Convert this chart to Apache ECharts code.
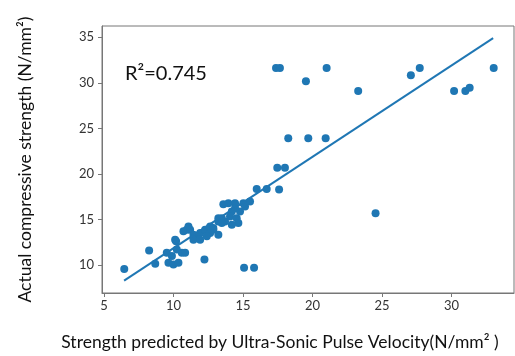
<!DOCTYPE html>
<html>
<head>
<meta charset="utf-8">
<script src="https://cdn.jsdelivr.net/npm/echarts@6/dist/echarts.min.js"></script>
<style>html,body{margin:0;padding:0;background:#fff}#c{width:515px;height:356px}</style>
</head>
<body>
<div id="c"></div>
<script>
var predicted = [6.46,8.25,8.69,9.52,9.64,10.0,10.36,10.6,10.24,9.89,10.84,10.19,10.96,11.08,10.12,10.72,11.2,11.44,11.68,11.44,11.92,12.28,12.64,12.87,13.23,13.48,13.71,13.59,13.95,14.43,14.2,14.07,14.55,14.67,14.79,15.15,15.03,14.43,13.23,13.48,14.2,12.87,12.64,13.23,12.4,11.92,12.23,15.08,15.80,15.99,16.71,17.6,17.47,18.02,18.26,19.70,20.95,17.38,17.66,19.53,21.02,23.29,27.08,27.72,30.19,31.0,31.31,33.04,24.54,15.51];
var actual    = [9.57,11.6,10.14,11.34,10.25,10.07,10.25,11.34,11.7,10.98,11.34,12.61,13.87,14.24,12.78,13.70,13.87,13.33,12.97,12.78,13.51,13.87,14.24,13.87,14.78,15.14,14.78,16.66,16.77,16.77,15.87,15.33,15.14,14.6,15.87,16.41,16.77,16.23,15.14,14.6,14.41,14.05,13.51,13.33,13.15,12.78,10.61,9.71,9.71,18.33,18.33,18.29,20.68,20.68,23.91,23.91,23.91,31.63,31.63,30.17,31.63,29.09,30.83,31.63,29.09,29.09,29.45,31.63,15.68,16.96];
var fitX = [6.45, 33.0];
var fitY = [8.28, 34.9];
var xTicks = [5, 10, 15, 20, 25, 30];
var yTicks = [10, 15, 20, 25, 30, 35];
var r2Text = 'R²=0.745';

var pts = predicted.map(function (x, i) { return [x, actual[i]]; });
var fit = fitX.map(function (x, i) { return [x, fitY[i]]; });
var FONT = 'Lato';
var chart = echarts.init(document.getElementById('c'), null, {renderer: 'canvas'});
chart.setOption({
  animation: false,
  backgroundColor: '#fff',
  textStyle: {fontFamily: FONT},
  title: {
    text: r2Text, left: 125, top: 64, padding: 0,
    textStyle: {fontFamily: FONT, fontSize: 20, fontWeight: 'normal', color: '#111'}
  },
  grid: {left: 102, top: 26, right: 1, bottom: 60, show: true, borderColor: '#777', borderWidth: 1},
  xAxis: {
    type: 'value', min: 4.86, max: 34.5,
    name: 'Strength predicted by Ultra-Sonic Pulse Velocity(N/mm² )',
    nameLocation: 'middle', nameGap: 40,
    nameTextStyle: {fontFamily: FONT, fontSize: 17.5, color: '#111', padding: [0, 0, 0, -56]},
    axisLine: {show: true, onZero: false, lineStyle: {color: '#777', width: 1}},
    axisTick: {show: true, length: 4, customValues: xTicks, lineStyle: {color: '#777'}},
    axisLabel: {customValues: xTicks, fontSize: 13, color: '#333', margin: 6, fontFamily: FONT},
    splitLine: {show: false}
  },
  yAxis: {
    type: 'value', min: 6.93, max: 36.23,
    name: 'Actual compressive strength (N/mm²)',
    nameLocation: 'middle', nameGap: 68,
    nameTextStyle: {fontFamily: FONT, fontSize: 17.5, color: '#111'},
    axisLine: {show: true, onZero: false, lineStyle: {color: '#777', width: 1}},
    axisTick: {show: true, length: 4, customValues: yTicks, lineStyle: {color: '#777'}},
    axisLabel: {customValues: yTicks, fontSize: 13, color: '#333', margin: 8, fontFamily: FONT},
    splitLine: {show: false}
  },
  series: [
    {type: 'scatter', data: pts, symbolSize: 8, itemStyle: {color: '#1f77b4', opacity: 1}, z: 2},
    {type: 'line', data: fit, symbol: 'none', lineStyle: {color: '#1f77b4', width: 2}, z: 3}
  ]
});
</script>
</body>
</html>
